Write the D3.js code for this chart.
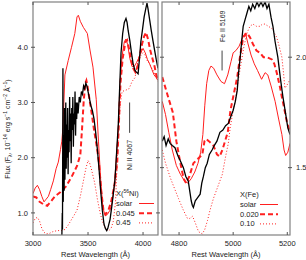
<!DOCTYPE html>
<html>
<head>
<meta charset="utf-8">
<script src="https://cdn.jsdelivr.net/npm/d3@7"></script>
<style>
  body { margin: 0; background: #fff; }
  svg text { font-family: "Liberation Sans", Arial, sans-serif; fill: #222; }
</style>
</head>
<body>
<div id="container"></div>
<script>
/* DATA: [wavelength (A), flux] */

// left panel: observed spectrum + X(56Ni) models
const obsLeft = [
  [3262,0.55],[3266,1.0],[3268,0.7],[3272,3.62],[3275,1.2],[3279,2.4],[3283,1.4],[3287,2.9],
  [3290,1.6],[3294,2.2],[3298,3.0],[3302,1.8],[3306,2.6],[3310,2.0],[3315,2.9],[3319,1.7],
  [3323,2.5],[3328,2.1],[3333,3.1],[3337,2.3],[3342,2.8],[3347,1.9],[3352,2.9],[3357,2.5],
  [3362,3.1],[3367,2.2],[3372,2.8],[3377,2.6],[3382,3.2],[3387,2.4],[3392,3.0],[3397,2.7],
  [3402,3.0],[3410,2.8],[3420,3.1],[3430,3.0],[3440,3.2],[3450,3.15],[3460,3.3],[3470,3.25],
  [3480,3.35],[3490,3.3],[3500,3.2],[3510,3.1],[3525,2.95],[3540,2.85],[3555,2.7],[3570,2.45],
  [3585,2.15],[3600,1.8],[3615,1.4],[3630,1.05],[3645,0.8],[3658,0.72],[3670,0.68],[3680,0.72],
  [3690,0.8],[3700,0.88],[3715,1.1],[3730,1.35],[3745,1.6],[3760,2.1],[3775,2.6],[3790,3.4],
  [3800,3.9],[3815,4.25],[3830,4.45],[3845,4.52],[3855,4.45],[3865,4.3],[3880,4.12],[3895,3.9],
  [3910,3.7],[3927,3.58],[3940,3.55],[3955,3.52],[3968,3.8],[3980,4.1],[3995,4.32],[4010,4.55],
  [4025,4.7],[4036,4.8],[4045,4.7],[4060,4.5],[4075,4.3],[4090,4.12],[4105,3.95],[4120,3.78],[4136,3.62]
];
const solarLeft = [
  [3000,1.35],[3020,1.45],[3040,1.5],[3060,1.42],[3080,1.3],[3100,1.2],[3120,1.25],[3140,1.3],
  [3160,1.42],[3185,1.58],[3210,1.8],[3230,1.92],[3250,2.15],[3262,2.3],[3272,2.55],[3290,3.5],
  [3320,3.76],[3350,4.0],[3380,4.25],[3400,4.55],[3412,4.58],[3430,4.47],[3458,4.36],[3494,4.25],
  [3518,3.95],[3545,3.64],[3575,3.05],[3595,2.3],[3615,1.6],[3635,1.1],[3655,0.95],[3675,0.97],
  [3700,1.05],[3720,1.2],[3740,1.5],[3760,2.1],[3775,2.5],[3790,3.3],[3810,3.85],[3830,4.1],
  [3845,4.15],[3860,4.05],[3880,3.8],[3900,3.65],[3920,3.65],[3940,3.72],[3960,3.8],[3980,3.9],
  [4000,3.98],[4020,3.9],[4040,3.78],[4060,3.7],[4080,3.6],[4100,3.5],[4120,3.45],[4136,3.4]
];
const ni045Left = [
  [3000,1.3],[3030,1.28],[3060,1.2],[3100,1.15],[3130,1.13],[3160,1.2],[3200,1.3],[3250,1.38],
  [3300,1.48],[3350,1.65],[3400,1.85],[3430,2.05],[3445,2.5],[3460,3.0],[3475,3.35],[3485,3.4],
  [3495,3.3],[3510,3.1],[3530,2.85],[3555,2.5],[3580,2.2],[3600,1.9],[3620,1.4],[3640,1.05],
  [3660,0.97],[3685,1.05],[3710,1.2],[3740,1.5],[3765,1.9],[3780,2.6],[3795,3.35],[3815,3.8],
  [3840,4.1],[3855,4.13],[3870,4.0],[3890,3.8],[3910,3.62],[3930,3.55],[3950,3.65],[3970,3.85],
  [3990,4.05],[4010,4.2],[4027,4.27],[4045,4.15],[4065,3.95],[4085,3.8],[4105,3.65],[4120,3.5],[4136,3.4]
];
const ni45Left = [
  [3000,0.82],[3020,0.9],[3040,0.92],[3060,0.85],[3080,0.72],[3100,0.65],[3120,0.62],[3150,0.63],
  [3180,0.66],[3220,0.68],[3260,0.68],[3290,0.7],[3320,0.78],[3350,0.88],[3380,0.98],[3400,1.05],
  [3430,1.3],[3460,1.6],[3480,1.8],[3500,1.95],[3515,1.9],[3530,1.8],[3560,1.55],[3585,1.25],
  [3610,1.0],[3630,0.85],[3650,0.75],[3670,0.7],[3690,0.68],[3710,0.72],[3730,0.85],[3750,1.2],
  [3765,1.9],[3780,2.6],[3795,3.0],[3810,3.2],[3840,3.22],[3873,3.25],[3900,3.38],[3927,3.45],
  [3955,3.76],[3980,3.85],[4000,3.9],[4020,3.85],[4040,3.75],[4060,3.7],[4080,3.62],[4100,3.55],
  [4120,3.45],[4136,3.38]
];

// right panel: observed spectrum + X(Fe) models
const obsRight = [
  [4738,1.62],[4745,1.64],[4752,1.6],[4760,1.63],[4767,1.61],[4775,1.6],[4785,1.59],[4791,1.57],
  [4797,1.55],[4805,1.53],[4816,1.5],[4825,1.46],[4834,1.44],[4840,1.39],[4845,1.35],[4849,1.33],
  [4853,1.32],[4860,1.35],[4866,1.36],[4872,1.37],[4878,1.38],[4884,1.43],[4890,1.46],[4897,1.5],
  [4904,1.52],[4912,1.56],[4922,1.58],[4930,1.6],[4940,1.62],[4951,1.66],[4962,1.67],[4972,1.69],
  [4982,1.7],[4991,1.73],[5000,1.76],[5008,1.8],[5015,1.85],[5020,1.93],[5026,2.0],[5032,2.08],
  [5037,2.14],[5044,2.17],[5051,2.2],[5058,2.23],[5065,2.21],[5072,2.24],[5080,2.22],[5088,2.25],
  [5095,2.23],[5103,2.25],[5110,2.23],[5118,2.25],[5125,2.22],[5132,2.24],[5140,2.18],[5147,2.14],
  [5155,2.07],[5165,2.0],[5175,1.9],[5184,1.82],[5193,1.75],[5202,1.68],[5210,1.65]
];
const solarRight = [
  [4738,1.8],[4750,1.74],[4762,1.66],[4775,1.58],[4790,1.51],[4805,1.47],[4820,1.44],[4832,1.43],
  [4845,1.45],[4858,1.48],[4870,1.52],[4880,1.57],[4888,1.65],[4895,1.78],[4902,1.88],[4910,1.94],
  [4918,1.96],[4928,1.95],[4940,1.92],[4955,1.89],[4968,1.88],[4980,1.92],[4992,1.98],[5000,2.02],
  [5010,2.03],[5022,2.05],[5035,2.09],[5045,2.11],[5055,2.06],[5066,2.01],[5078,1.97],[5090,1.94],
  [5105,1.9],[5118,1.93],[5128,1.92],[5140,1.87],[5155,1.8],[5168,1.72],[5180,1.65],[5188,1.58],
  [5194,1.555],[5202,1.57],[5210,1.61]
];
const fe020Right = [
  [4738,1.91],[4750,1.86],[4762,1.81],[4777,1.75],[4790,1.62],[4805,1.52],[4817,1.45],[4826,1.43],
  [4838,1.46],[4853,1.52],[4870,1.54],[4886,1.56],[4894,1.62],[4900,1.63],[4910,1.62],[4927,1.6],
  [4940,1.56],[4950,1.55],[4960,1.58],[4970,1.62],[4980,1.66],[4990,1.76],[5000,1.82],[5015,1.91],
  [5025,2.0],[5037,2.09],[5051,2.11],[5062,2.09],[5073,2.06],[5086,2.03],[5099,2.02],[5112,2.0],
  [5125,2.0],[5143,1.99],[5152,1.97],[5161,1.93],[5172,1.87],[5180,1.82],[5190,1.76],[5198,1.71],[5210,1.66]
];
const fe10Right = [
  [4738,1.58],[4750,1.52],[4769,1.45],[4785,1.4],[4798,1.36],[4815,1.31],[4831,1.27],[4840,1.27],
  [4850,1.28],[4860,1.25],[4872,1.21],[4886,1.2],[4895,1.22],[4905,1.26],[4915,1.31],[4927,1.36],
  [4945,1.42],[4960,1.47],[4972,1.55],[4982,1.61],[4989,1.68],[5000,1.76],[5007,1.8],[5017,1.88],
  [5026,1.95],[5040,2.05],[5051,2.11],[5062,2.14],[5073,2.15],[5086,2.14],[5099,2.14],[5108,2.15],
  [5117,2.15],[5130,2.14],[5143,2.13],[5152,2.11],[5161,2.09],[5170,2.05],[5180,2.0],[5186,1.93],
  [5191,1.86],[5197,1.87],[5202,1.88],[5210,1.9]
];

// ticks & labels
const leftXTicks = [3000, 3500, 4000];
const leftYTicks = [1.0, 2.0, 3.0, 4.0];
const rightXTicks = [4800, 5000, 5200];
const rightYTicks = [1.5, 2.0];
const leftLegend = ["solar", "0.045", "0.45"];
const rightLegend = ["solar", "0.020", "0.10"];

/* LAYOUT */
const width = 306, height = 260;
const left = { x0: 33, x1: 158, y0: 2, y1: 235 };
const right = { x0: 162, x1: 290, y0: 2, y1: 235 };

const xL = d3.scaleLinear().domain([3000, 4136]).range([left.x0, left.x1]);
const yL = d3.scaleLinear().domain([0.6, 4.82]).range([left.y1, left.y0]);
const xR = d3.scaleLinear().domain([4737, 5210]).range([right.x0, right.x1]);
const yR = d3.scaleLinear().domain([1.195, 2.25]).range([right.y1, right.y0]);

const red = "#ff1f1f";
const styles = [
  { stroke: red, width: 1, dash: null },
  { stroke: red, width: 2, dash: "5,3" },
  { stroke: red, width: 1, dash: "1,2" }
];

const svg = d3.select("#container").append("svg")
  .attr("width", width).attr("height", height);

const defs = svg.append("defs");
[["clipL", left], ["clipR", right]].forEach(([id, p]) => {
  defs.append("clipPath").attr("id", id).append("rect")
    .attr("x", p.x0).attr("y", p.y0).attr("width", p.x1 - p.x0).attr("height", p.y1 - p.y0);
});

function drawPanel(p, x, y, clip, obs, models) {
  const line = d3.line().x(d => x(d[0])).y(d => y(d[1]));
  const g = svg.append("g").attr("clip-path", `url(#${clip})`);
  models.forEach((m, i) => {
    g.append("path").datum(m)
      .attr("d", line).attr("fill", "none")
      .attr("stroke", styles[i].stroke)
      .attr("stroke-width", styles[i].width)
      .attr("stroke-dasharray", styles[i].dash);
  });
  g.append("path").datum(obs)
    .attr("d", line).attr("fill", "none")
    .attr("stroke", "#000").attr("stroke-width", 1.3);

  // frame
  svg.append("rect")
    .attr("x", p.x0).attr("y", p.y0)
    .attr("width", p.x1 - p.x0).attr("height", p.y1 - p.y0)
    .attr("fill", "none").attr("stroke", "#808080").attr("stroke-width", 1.2);
}

function ticks(p, x, y, xt, yt, ySide) {
  const g = svg.append("g").attr("stroke", "#555").attr("stroke-width", 1);
  xt.forEach(t => {
    g.append("line").attr("x1", x(t)).attr("x2", x(t)).attr("y1", p.y1).attr("y2", p.y1 - 3);
    g.append("line").attr("x1", x(t)).attr("x2", x(t)).attr("y1", p.y0).attr("y2", p.y0 + 3);
  });
  yt.forEach(t => {
    g.append("line").attr("x1", p.x0 - 2).attr("x2", p.x0 + 2).attr("y1", y(t)).attr("y2", y(t));
    g.append("line").attr("x1", p.x1 - 2).attr("x2", p.x1 + 2).attr("y1", y(t)).attr("y2", y(t));
  });
  svg.append("g").selectAll("text").data(xt).join("text")
    .attr("x", d => x(d)).attr("y", 246)
    .attr("text-anchor", "middle").attr("font-size", 7.5)
    .text(d => d);
  svg.append("g").selectAll("text").data(yt).join("text")
    .attr("x", ySide === "left" ? p.x0 - 5 : p.x1 + 6)
    .attr("y", d => y(d) + 2.7)
    .attr("text-anchor", ySide === "left" ? "end" : "start")
    .attr("font-size", 7.5)
    .text(d => d.toFixed(1));
  svg.append("text")
    .attr("x", (p.x0 + p.x1) / 2).attr("y", 257)
    .attr("text-anchor", "middle").attr("font-size", 7.5)
    .text("Rest Wavelength (\u00C5)");
}

drawPanel(left, xL, yL, "clipL", obsLeft, [solarLeft, ni045Left, ni45Left]);
drawPanel(right, xR, yR, "clipR", obsRight, [solarRight, fe020Right, fe10Right]);
ticks(left, xL, yL, leftXTicks, leftYTicks, "left");
ticks(right, xR, yR, rightXTicks, rightYTicks, "right");

// Y AXIS TITLE
const yt = svg.append("text")
  .attr("transform", "translate(10,129) rotate(-90)")
  .attr("text-anchor", "middle").attr("font-size", 7);
yt.append("tspan").text("Flux (F");
yt.append("tspan").attr("font-size", 5).attr("dy", 1.5).text("\u03BB");
yt.append("tspan").attr("dy", -1.5).text(", 10");
yt.append("tspan").attr("font-size", 5).attr("dy", -3).text("\u221214");
yt.append("tspan").attr("dy", 3).text(" erg s");
yt.append("tspan").attr("font-size", 5).attr("dy", -3).text("\u22121");
yt.append("tspan").attr("dy", 3).text(" cm");
yt.append("tspan").attr("font-size", 5).attr("dy", -3).text("\u22122");
yt.append("tspan").attr("dy", 3).text(" \u00C5");
yt.append("tspan").attr("font-size", 5).attr("dy", -3).text("\u22121");
yt.append("tspan").attr("dy", 3).text(")");

// LINE ID ANNOTATIONS
function lineId(x, y, w, top, bot, textY, label) {
  svg.append("line")
    .attr("x1", x(w)).attr("x2", x(w)).attr("y1", y(top)).attr("y2", y(bot))
    .attr("stroke", "#444").attr("stroke-width", 1);
  svg.append("text")
    .attr("transform", `translate(${x(w) + 2.5},${y(textY)}) rotate(-90)`)
    .attr("text-anchor", "middle").attr("font-size", 7)
    .text(label);
}
lineId(xL, yL, 3878, 3.0, 2.45, 2.05, "Ni II 4067");
lineId(xR, yR, 4959, 2.03, 1.94, 2.14, "Fe II 5169");

// LEGENDS
function legend(x0, lx0, lx1, yTop, title, labels) {
  const t = svg.append("text").attr("x", x0).attr("y", yTop).attr("font-size", 7.5);
  if (title === "ni") {
    t.append("tspan").text("X(");
    t.append("tspan").attr("font-size", 5).attr("dy", -3).text("56");
    t.append("tspan").attr("dy", 3).text("Ni)");
  } else {
    t.text("X(Fe)");
  }
  labels.forEach((lab, i) => {
    const yy = yTop + 10 + i * 9.7;
    svg.append("text").attr("x", x0).attr("y", yy).attr("font-size", 7.5).text(lab);
    svg.append("line")
      .attr("x1", lx0).attr("x2", lx1).attr("y1", yy - 2.5).attr("y2", yy - 2.5)
      .attr("stroke", styles[i].stroke).attr("stroke-width", styles[i].width)
      .attr("stroke-dasharray", styles[i].dash);
  });
}
legend(116, 139, 154, 196, "ni", leftLegend);
legend(240, 260, 278, 197, "fe", rightLegend);
</script>
</body>
</html>
